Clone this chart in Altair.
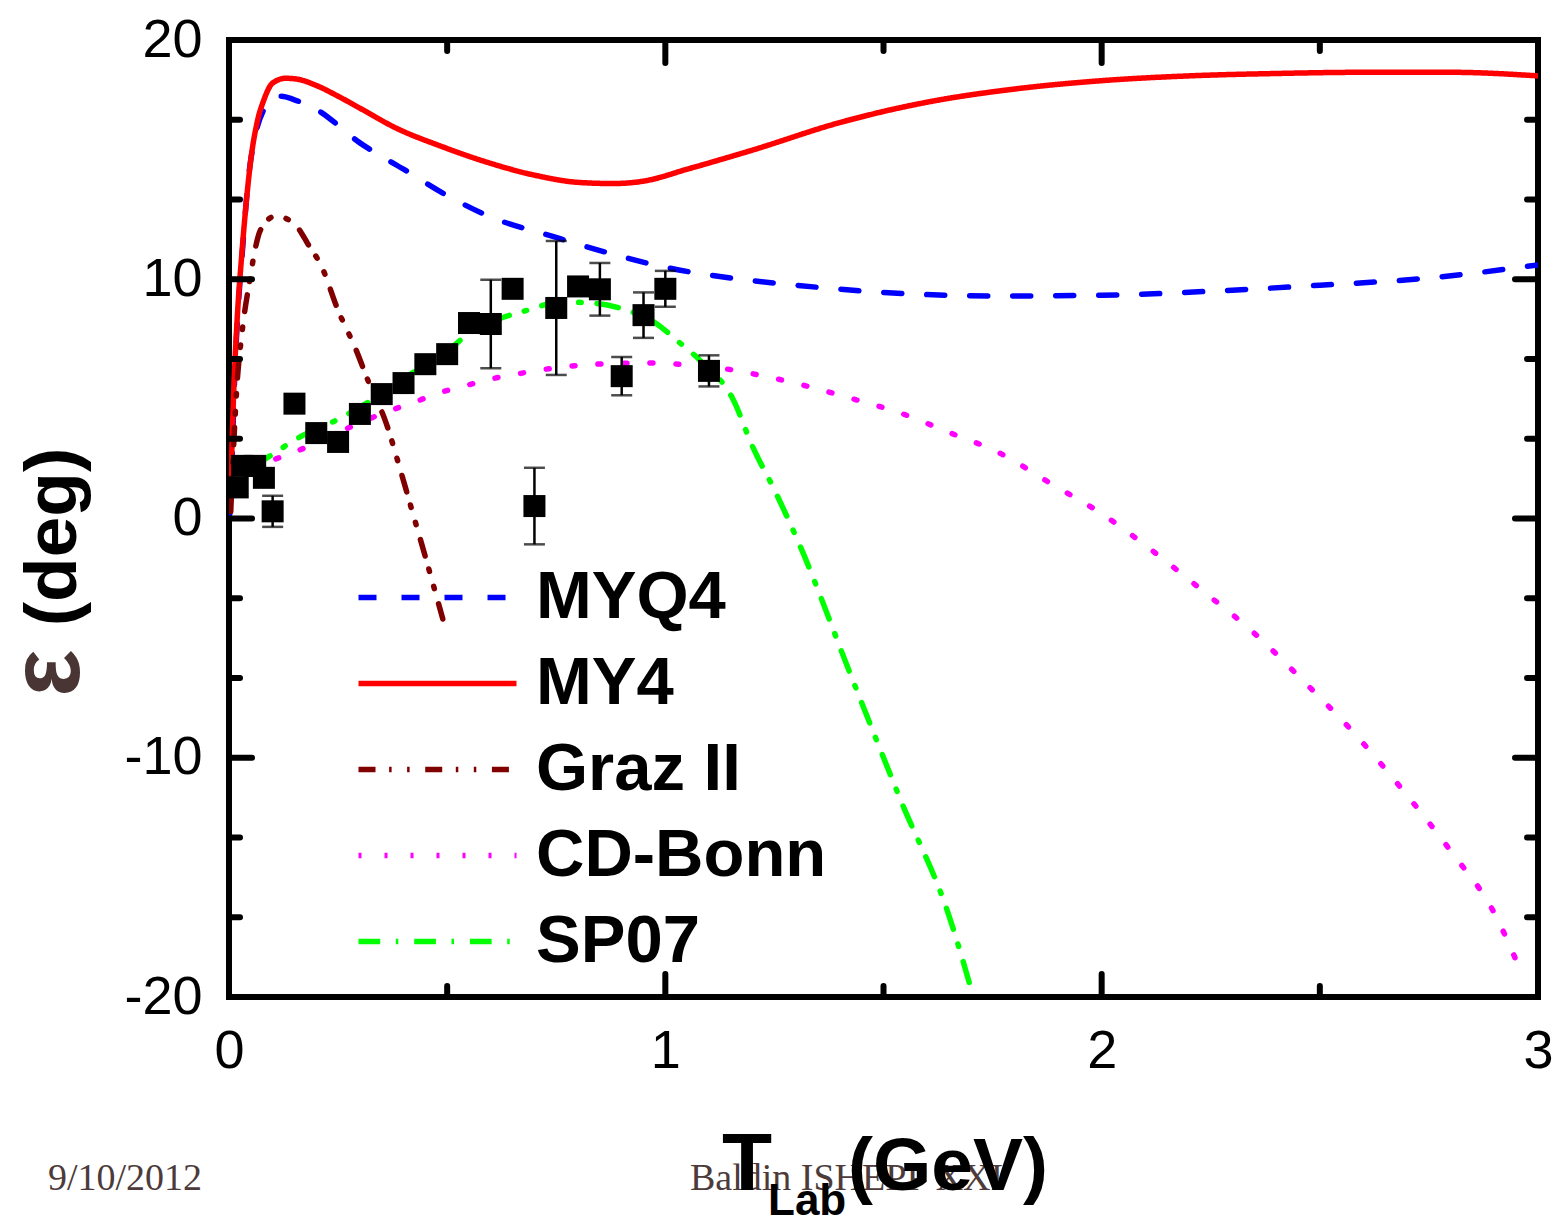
import altair as alt
import pandas as pd

# ---------------- data ----------------
series_order = ["MYQ4", "MY4", "Graz II", "CD-Bonn", "SP07"]
series_colors = ["#0000ff", "#ff0000", "#800000", "#ff00ff", "#00ff00"]
series_dash = [[18, 25], [1, 0], [17, 13.6, 2.5, 15.5, 2.5, 15.6], [3, 23], [21.7, 15.6, 2.5, 15.9]]

myq4_x = [0.002, 0.007, 0.012, 0.019, 0.03, 0.045, 0.06, 0.08, 0.1, 0.12, 0.15, 0.2, 0.3, 0.4, 0.5, 0.6,
          0.74, 0.85, 1.0, 1.15, 1.3, 1.5, 1.75, 2.0, 2.25, 2.5, 2.75, 3.0]
myq4_y = [0.2, 2.5, 5.4, 8.2, 11.0, 14.3, 16.0, 17.1, 17.55, 17.65, 17.5, 17.1, 15.7, 14.6, 13.5, 12.6,
          11.8, 11.2, 10.5, 10.05, 9.75, 9.45, 9.3, 9.33, 9.5, 9.75, 10.05, 10.6]

my4_x = [0.002, 0.006, 0.011, 0.018, 0.03, 0.04, 0.05, 0.065, 0.08, 0.1, 0.13, 0.16, 0.2, 0.25, 0.3, 0.385,
         0.48, 0.59, 0.7, 0.8, 0.88, 0.95, 1.05, 1.2, 1.4, 1.6, 1.8, 2.0, 2.2, 2.4, 2.6, 2.8, 3.0]
my4_y = [0.3, 2.6, 5.4, 8.1, 11.2, 13.3, 15.0, 16.6, 17.5, 18.2, 18.4, 18.35, 18.1, 17.65, 17.15, 16.3,
         15.6, 14.9, 14.35, 14.05, 14.0, 14.1, 14.6, 15.4, 16.55, 17.4, 17.95, 18.3, 18.5, 18.6, 18.65, 18.65, 18.5]

graz_x = [0.004, 0.01, 0.018, 0.03, 0.046, 0.067, 0.085, 0.1, 0.12, 0.135, 0.16, 0.18, 0.213, 0.25, 0.29,
          0.32, 0.36, 0.39, 0.42, 0.45, 0.49]
graz_y = [0.3, 2.8, 5.5, 7.8, 9.8, 11.8, 12.4, 12.6, 12.6, 12.5, 12.1, 11.5, 10.5, 8.7, 7.1,
          5.7, 4.0, 2.2, 0.3, -1.6, -4.2]

cdb_x = [0.05, 0.12, 0.18, 0.3, 0.36, 0.42, 0.48, 0.54, 0.6, 0.66, 0.75, 0.84, 0.96, 1.05, 1.14, 1.2,
         1.31, 1.42, 1.54, 1.65, 1.77, 1.88, 2.0, 2.12, 2.23, 2.35, 2.46, 2.58, 2.69, 2.8, 2.9, 2.96]
cdb_y = [2.2, 2.57, 3.0, 4.0, 4.45, 4.83, 5.24, 5.54, 5.83, 6.04, 6.3, 6.45, 6.5, 6.42, 6.25, 6.05,
         5.6, 5.05, 4.4, 3.6, 2.7, 1.5, 0.2, -1.4, -3.0, -4.8, -6.75, -9.0, -11.35, -13.9, -16.5, -18.9]

sp07_x = [0.05, 0.09, 0.15, 0.26, 0.34, 0.42, 0.5, 0.56, 0.62, 0.683, 0.76, 0.835, 0.913, 0.966, 1.034,
          1.08, 1.156, 1.2, 1.25, 1.31, 1.424, 1.54, 1.65, 1.706]
sp07_y = [2.2, 2.57, 3.28, 4.24, 5.1, 6.08, 7.0, 7.87, 8.35, 8.7, 9.05, 9.0, 8.7, 8.3, 7.33,
          6.6, 4.95, 3.0, 1.2, -1.2, -6.5, -11.8, -16.6, -20.0]

exp_x = [0.02, 0.03, 0.06, 0.08, 0.1, 0.15, 0.2, 0.25, 0.3, 0.35, 0.4, 0.45, 0.5, 0.55, 0.6, 0.65,
         0.7, 0.75, 0.8, 0.85, 0.9, 0.95, 1.0, 1.1]
exp_y = [1.3, 2.2, 2.2, 1.7, 0.3, 4.8, 3.57, 3.2, 4.37, 5.2, 5.66, 6.45, 6.87, 8.17, 8.13, 9.6,
         0.52, 8.8, 9.7, 9.58, 5.95, 8.5, 9.6, 6.17]
exp_err = [0, 0, 0, 0, 0.65, 0, 0, 0, 0, 0, 0, 0, 0, 0, 1.85, 0,
           1.6, 2.8, 0, 1.1, 0.8, 0.95, 0.75, 0.65]

x_labels = [0, 1, 2, 3]
y_labels = [-20, -10, 0, 10, 20]
x_minor = [0.5, 1.5, 2.5]
x_major_inner = [1, 2]
y_major = [-10, 0, 10]
y_minor = [-16.667, -13.333, -6.667, -3.333, 3.333, 6.667, 13.333, 16.667]

# ---------------- frames ----------------
curves = []
for name, xs, ys in [("MYQ4", myq4_x, myq4_y), ("MY4", my4_x, my4_y), ("Graz II", graz_x, graz_y),
                     ("CD-Bonn", cdb_x, cdb_y), ("SP07", sp07_x, sp07_y)]:
    curves.append(pd.DataFrame({"series": name, "x": xs, "y": ys}))
curves_df = pd.concat(curves, ignore_index=True)

exp_df = pd.DataFrame({"x": exp_x, "y": exp_y, "e": exp_err})
err_df = exp_df[exp_df["e"] > 0].copy()
err_df["lo"] = err_df["y"] - err_df["e"]
err_df["hi"] = err_df["y"] + err_df["e"]
caps_df = pd.concat([pd.DataFrame({"x": err_df["x"], "y": err_df["lo"]}),
                     pd.DataFrame({"x": err_df["x"], "y": err_df["hi"]})], ignore_index=True)

W, H = 1309, 957
FONT = "Liberation Sans"

xscale = alt.Scale(domain=[0, 3], nice=False, zero=False)
yscale = alt.Scale(domain=[-20, 20], nice=False, zero=False)

xaxis = alt.Axis(values=x_labels, labelFontSize=54, labelFont=FONT, labelColor="black",
                 ticks=False, tickSize=0, domain=False, grid=False, labelPadding=27,
                 labelFlush=False, labelOverlap=False, labelExpr="'' + datum.value", title=None)
yaxis = alt.Axis(values=y_labels, labelFontSize=54, labelFont=FONT, labelColor="black",
                 ticks=False, tickSize=0, domain=False, grid=False, labelPadding=27,
                 labelFlush=False, labelOverlap=False, labelExpr="'' + datum.value", title=None)

X = alt.X("x:Q", scale=xscale, axis=xaxis)
Y = alt.Y("y:Q", scale=yscale, axis=yaxis)

# long horizontal stroke symbol: path spans 3x the nominal symbol size
legend = alt.Legend(orient="none", legendX=175, legendY=524, title=None, symbolType="M-3,0H3",
                    symbolSize=2773, symbolStrokeWidth=5.5, symbolFillColor="transparent",
                    labelFont=FONT, labelFontSize=67,
                    labelFontWeight="bold", labelColor="black", labelOffset=65, labelLimit=0,
                    rowPadding=18, padding=0)

lines = alt.Chart(curves_df).mark_line(strokeWidth=5.5, strokeCap="round", clip=True,
                                       interpolate="monotone").encode(
    x=X, y=Y,
    color=alt.Color("series:N", scale=alt.Scale(domain=series_order, range=series_colors), legend=legend),
    strokeDash=alt.StrokeDash("series:N", scale=alt.Scale(domain=series_order, range=series_dash), legend=legend),
)

err_rules = alt.Chart(err_df).mark_rule(strokeWidth=2.5, color="black").encode(
    x=X, y=alt.Y("lo:Q", scale=yscale, axis=yaxis), y2="hi:Q")
caps = alt.Chart(caps_df).mark_tick(orient="horizontal", size=21, thickness=2.5, color="black").encode(x=X, y=Y)
squares = alt.Chart(exp_df).mark_square(size=484, color="black", opacity=1, filled=True).encode(x=X, y=Y)

# inward ticks on all four sides
def yticks(vals, x0, x1):
    return alt.Chart(pd.DataFrame({"y": vals})).mark_rule(strokeWidth=6, color="black", strokeCap="round").encode(
        y=Y, x=alt.value(x0), x2=alt.value(x1))

def xticks(vals, y0, y1):
    return alt.Chart(pd.DataFrame({"x": vals})).mark_rule(strokeWidth=6, color="black", strokeCap="round").encode(
        x=X, y=alt.value(y0), y2=alt.value(y1))

tick_layers = [
    yticks(y_major, 0, 23), yticks(y_minor, 0, 11),
    yticks(y_major, W, W - 23), yticks(y_minor, W, W - 11),
    xticks(x_major_inner, H, H - 23), xticks(x_minor, H, H - 11),
    xticks(x_major_inner, 0, 23), xticks(x_minor, 0, 11),
]

def label(text, x, y, size, weight="bold", color="black", font=FONT, angle=0, align="left"):
    return alt.Chart(pd.DataFrame({"t": [text]})).mark_text(
        fontSize=size, fontWeight=weight, color=color, font=font, angle=angle, align=align,
        baseline="alphabetic").encode(text="t:N", x=alt.value(x), y=alt.value(y))

texts = [
    label("9/10/2012", -181, 1150, 38, weight="normal", color="#4d3b3b", font="Liberation Serif"),
    label("Baldin ISHEPP XXI", 461, 1150, 38, weight="normal", color="#4d3b3b", font="Liberation Serif"),
    label("T", 493, 1150, 82),
    label("Lab", 539, 1175, 44),
    label("(GeV)", 619, 1150, 75),
    label("(deg)", -153, 497, 73, angle=270, align="center"),
    label("ε", -150, 633, 100, color="#4a3535", angle=270, align="center"),
]

chart = alt.layer(lines, err_rules, caps, squares, *tick_layers, *texts).properties(
    width=W, height=H,
    autosize=alt.AutoSizeParams(type="none"),
    padding={"left": 229, "top": 40, "right": 1556 - 229 - W, "bottom": 1218 - 40 - H},
    background="white",
).configure_view(stroke="black", strokeWidth=6)

chart.save("out.html", embed_options={"renderer": "svg", "actions": False})
